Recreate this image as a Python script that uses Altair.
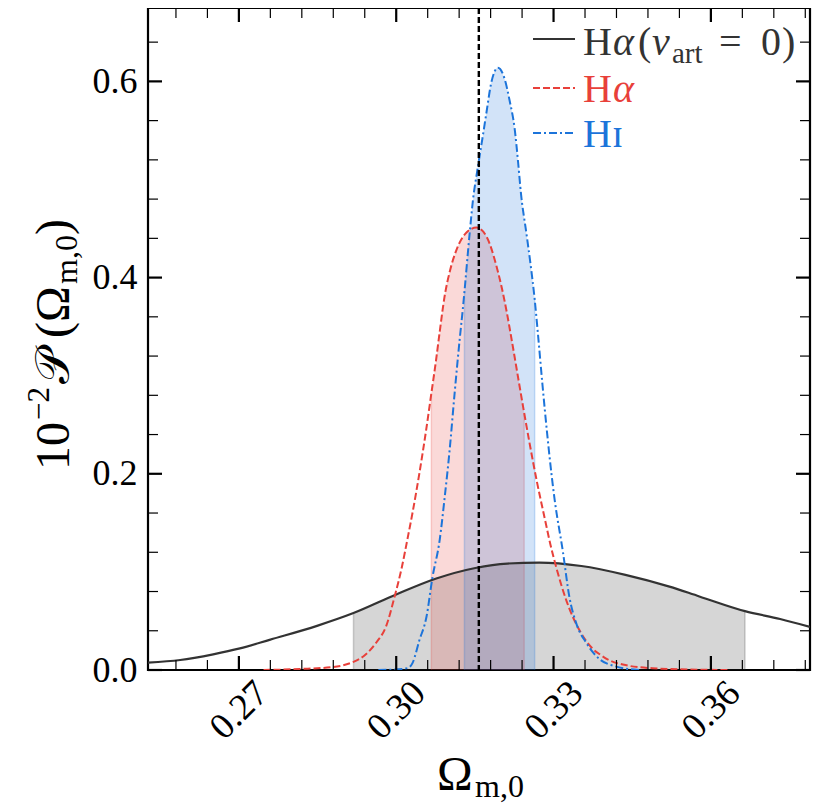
import altair as alt
import pandas as pd

# ---------------- data ----------------
# H-alpha (v_art = 0): broad posterior
black_x = [0.25267, 0.2588, 0.2651, 0.2702, 0.2760, 0.2849, 0.29185, 0.3000, 0.3075,
           0.3151, 0.3212, 0.3273, 0.3353, 0.3437, 0.3521, 0.3578, 0.3665, 0.3732, 0.3789]
black_y = [0.0075, 0.0102, 0.016, 0.022, 0.031, 0.045, 0.058, 0.077, 0.093,
           0.104, 0.1085, 0.1095, 0.106, 0.097, 0.085, 0.075, 0.060, 0.052, 0.044]
black_ci = [0.29185, 0.3665]

# H-alpha
red_x = [0.2747, 0.2816, 0.2879, 0.2917, 0.2940, 0.2962, 0.2981, 0.2997, 0.3010, 0.3022,
         0.3031, 0.3044, 0.3058, 0.3067, 0.3076, 0.3083, 0.3092, 0.3103, 0.3114, 0.3134,
         0.3153, 0.3172, 0.3191, 0.3210, 0.3220, 0.3235, 0.3244, 0.3254, 0.3269, 0.3283,
         0.3294, 0.3306, 0.3325, 0.3350, 0.3374, 0.3388, 0.3406, 0.3437, 0.3489, 0.3559,
         0.3632]
red_y = [0.0, 0.001, 0.003, 0.008, 0.015, 0.028, 0.045, 0.075, 0.103, 0.135,
         0.160, 0.200, 0.248, 0.282, 0.316, 0.345, 0.380, 0.408, 0.427, 0.446,
         0.451, 0.442, 0.412, 0.367, 0.337, 0.290, 0.262, 0.232, 0.190, 0.155,
         0.128, 0.103, 0.070, 0.040, 0.022, 0.016, 0.010, 0.005, 0.0018, 0.0005,
         0.0]
red_ci = [0.3067, 0.3244]

# HI
blue_x = [0.2966, 0.2997, 0.3022, 0.3031, 0.3044, 0.3058, 0.3069, 0.3083, 0.3092, 0.3102,
          0.3111, 0.3121, 0.3127, 0.3130, 0.3140, 0.3147, 0.3154, 0.3159, 0.3165, 0.3172,
          0.3181, 0.3194, 0.3207, 0.3216, 0.3226, 0.3232, 0.3238, 0.3248, 0.3257, 0.3264,
          0.3270, 0.3279, 0.3288, 0.3296, 0.3302, 0.3318, 0.3330, 0.3343, 0.3362, 0.3388,
          0.3416, 0.3464]
blue_y = [0.0, 0.0005, 0.002, 0.007, 0.030, 0.055, 0.094, 0.133, 0.174, 0.225,
          0.280, 0.337, 0.368, 0.385, 0.445, 0.482, 0.507, 0.524, 0.544, 0.568,
          0.598, 0.614, 0.602, 0.581, 0.551, 0.520, 0.485, 0.446, 0.410, 0.378,
          0.344, 0.290, 0.240, 0.200, 0.174, 0.120, 0.075, 0.048, 0.028, 0.011,
          0.004, 0.0]
blue_ci = [0.3130, 0.3264]

ref_value = [0.31575]

x_major = [0.27, 0.30, 0.33, 0.36]
x_minor = [0.258, 0.264, 0.276, 0.282, 0.288, 0.294, 0.306, 0.312, 0.318, 0.324,
           0.336, 0.342, 0.348, 0.354, 0.366, 0.372, 0.378]
y_major = [0.0, 0.2, 0.4, 0.6]
y_minor = [0.04, 0.08, 0.12, 0.16, 0.24, 0.28, 0.32, 0.36, 0.44, 0.48, 0.52, 0.56, 0.64]

x_domain = [0.25267, 0.3789]
y_domain = [0.0, 0.6748]

# ---------------- styling ----------------
W, H = 662, 662
FONT = "Liberation Serif"
C_BLACK = "#333333"
C_RED = "#e8403a"
C_BLUE = "#1c74da"

xs = alt.Scale(domain=x_domain, nice=False, zero=False)
ys = alt.Scale(domain=y_domain, nice=False, zero=False)

df_black = pd.DataFrame({"x": black_x, "y": black_y})
df_red = pd.DataFrame({"x": red_x, "y": red_y})
df_blue = pd.DataFrame({"x": blue_x, "y": blue_y})

X_AX = alt.Axis(values=x_major, format=".2f", labelAngle=315, labelAlign="center",
                labelBaseline="middle", labelPadding=40, ticks=False, tickSize=0,
                domain=False, grid=False, labelFont=FONT, labelFontSize=37,
                labelColor="black", labelOverlap=False, labelFlush=False, title=None)
Y_AX = alt.Axis(values=y_major, format=".1f", labelPadding=11, ticks=False, tickSize=0,
                domain=False, grid=False, labelFont=FONT, labelFontSize=36,
                labelColor="black", labelOverlap=False, labelFlush=False, title=None)

X = lambda f: alt.X(f, scale=xs, axis=X_AX)
Y = lambda f: alt.Y(f, scale=ys, axis=Y_AX)


def in_ci(ci):
    return (alt.datum.x >= ci[0] - 1e-9) & (alt.datum.x <= ci[1] + 1e-9)


def fill(df, ci, color):
    area = alt.Chart(df).transform_filter(in_ci(ci)).mark_area(
        color=color, opacity=0.2, interpolate="monotone").encode(x=X("x:Q"), y=Y("y:Q"))
    edges = alt.Chart(df).transform_filter(
        (alt.datum.x == ci[0]) | (alt.datum.x == ci[1])).mark_rule(
        color=color, opacity=0.22, strokeWidth=1.5).encode(
        x=X("x:Q"), y=Y("y:Q"), y2=alt.value(H))
    return [area, edges]


def line(df, color, dash, width):
    kw = dict(color=color, strokeWidth=width, interpolate="monotone", clip=True)
    if dash:
        kw["strokeDash"] = dash
    return alt.Chart(df).mark_line(**kw).encode(x=X("x:Q"), y=Y("y:Q"))


fills = (fill(df_black, black_ci, C_BLACK) + fill(df_red, red_ci, C_RED) +
         fill(df_blue, blue_ci, C_BLUE))
lines = [line(df_black, C_BLACK, None, 2.2), line(df_red, C_RED, [7, 3], 2),
         line(df_blue, C_BLUE, [8, 3, 2, 3], 2)]

vline = alt.Chart(pd.DataFrame({"x": ref_value})).mark_rule(
    color="black", strokeWidth=2.4, strokeDash=[6, 3]).encode(
    x=X("x:Q"), y=alt.value(0), y2=alt.value(H))


def xticks(vals, length, width):
    d = pd.DataFrame({"x": vals})
    bot = alt.Chart(d).mark_rule(color="black", strokeWidth=width).encode(
        x=X("x:Q"), y=alt.value(H), y2=alt.value(H - length))
    top = alt.Chart(d).mark_rule(color="black", strokeWidth=width).encode(
        x=X("x:Q"), y=alt.value(0), y2=alt.value(length))
    return [bot, top]


def yticks(vals, length, width):
    d = pd.DataFrame({"y": vals})
    left = alt.Chart(d).mark_rule(color="black", strokeWidth=width).encode(
        y=Y("y:Q"), x=alt.value(0), x2=alt.value(length))
    right = alt.Chart(d).mark_rule(color="black", strokeWidth=width).encode(
        y=Y("y:Q"), x=alt.value(W), x2=alt.value(W - length))
    return [left, right]


ticks = (xticks(x_major, 14, 2.2) + xticks(x_minor, 10, 1.2) +
         yticks(y_major, 14, 2.2) + yticks(y_minor, 10, 1.2))

# ---------------- text pieces (titles and legend) ----------------
one = pd.DataFrame({"a": [0]})


def seg(txt, x, y, color="black", size=40, style="normal", angle=0, font=FONT):
    kw = dict(text=txt, color=color, font=font, fontSize=size, fontStyle=style,
              align="left", baseline="alphabetic")
    if angle:
        kw["angle"] = angle
    return alt.Chart(one).mark_text(**kw).encode(x=alt.value(x), y=alt.value(y))


# x title: Omega_{m,0}
x_title = [seg("Ω", 289, 782, size=48), seg("m,0", 327, 789, size=32)]

# y title: 10^{-2} P(Omega_{m,0}), rotated, reading upwards
y_title = [
    seg("10", -79, 462, size=48, angle=270),
    seg("−2", -99, 412, size=31, angle=270),
    seg("𝒫", -79, 376, size=48, angle=270),
    seg("(", -79, 330, size=48, angle=270),
    seg("Ω", -79, 314, size=48, angle=270),
    seg("m,0", -71, 276, size=32, angle=270),
    seg(")", -79, 227, size=48, angle=270),
]


def key(y, color, dash):
    kw = dict(color=color, strokeWidth=2)
    if dash:
        kw["strokeDash"] = dash
    return alt.Chart(one).mark_rule(**kw).encode(
        x=alt.value(385), x2=alt.value(427), y=alt.value(y))


legend = [
    key(31, C_BLACK, None),
    seg("H", 435, 47, C_BLACK), seg("α", 465, 47, C_BLACK, style="italic"),
    seg("(", 490, 47, C_BLACK), seg("v", 504, 47, C_BLACK, style="italic"),
    seg("art", 524, 55, C_BLACK, size=29), seg("=", 571, 47, C_BLACK),
    seg("0", 613, 47, C_BLACK), seg(")", 634, 47, C_BLACK),
    key(80, C_RED, [7, 3]),
    seg("H", 435, 94, C_RED), seg("α", 465, 94, C_RED, style="italic"),
    key(125, C_BLUE, [8, 3, 2, 3]),
    seg("Hɪ", 435, 139, C_BLUE),
]

chart = alt.layer(*fills, *lines, vline, *ticks, *x_title, *y_title, *legend).properties(
    width=W, height=H,
    padding={"left": 140, "top": 0, "right": 5, "bottom": 141},
    autosize=alt.AutoSizeParams(type="none"),
    background="white",
).configure_view(stroke="black", strokeWidth=2.2)

chart.save("out.html", embed_options={"renderer": "svg", "actions": False})
